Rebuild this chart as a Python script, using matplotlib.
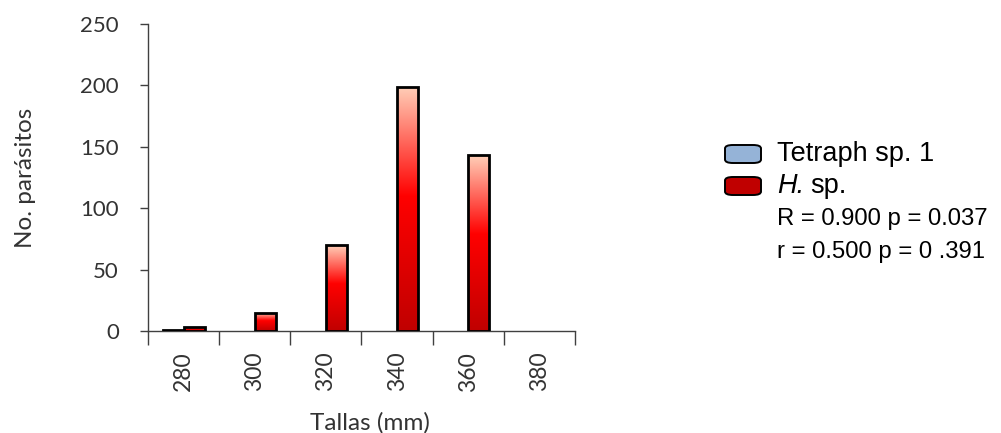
import numpy as np
import matplotlib
matplotlib.use("Agg")
import matplotlib.pyplot as plt
from matplotlib.colors import LinearSegmentedColormap
from matplotlib.patches import FancyBboxPatch

tallas = ["280", "300", "320", "340", "360", "380"]
tetraph = [1, 0, 0, 0, 0, 0]
hsp = [3, 15, 70, 199, 143, 0]

TXT = "#333333"

fig = plt.figure(figsize=(10.01, 4.33), dpi=100)
ax = fig.add_axes([148 / 1001, 1 - 331 / 433, 427 / 1001, 307 / 433])

x = np.arange(len(tallas))
w = 0.295
lw1 = [2 if v > 0 else 0 for v in tetraph]
lw2 = [2 if v > 0 else 0 for v in hsp]
b1 = ax.bar(x - w / 2, tetraph, w, color="#95b3d7", edgecolor="black", linewidth=lw1, zorder=3)
b2 = ax.bar(x + w / 2, hsp, w, color="none", edgecolor="black", linewidth=lw2, zorder=3)

# vertical gradient for the red bars
cmap = LinearSegmentedColormap.from_list(
    "redgrad", [(0, "#c00000"), (0.55, "#ff0000"), (1, "#ffcfb8")])
grad = np.linspace(0, 1, 256).reshape(-1, 1)
for rect in b2:
    h = rect.get_height()
    if h <= 0:
        continue
    x0 = rect.get_x()
    im = ax.imshow(grad, cmap=cmap, origin="lower", aspect="auto",
                   extent=[x0, x0 + rect.get_width(), 0, h], zorder=2)
    im.set_clip_path(rect)

ax.set_xlim(-0.5, len(tallas) - 0.5)
ax.set_ylim(0, 250)
ax.set_yticks(np.arange(0, 251, 50))

ax.set_xticks(np.arange(-0.5, len(tallas)))
ax.set_xticklabels([])
ax.set_xticks(x, minor=True)
ax.set_xticklabels(tallas, minor=True, rotation=90, fontsize=16.5, family="Lato", color=TXT)
ax.tick_params(axis="x", which="major", length=10, width=1, direction="out", color="#404040")
ax.tick_params(axis="x", which="minor", length=0, pad=15)
ax.tick_params(axis="y", length=6, width=1, direction="out", labelsize=16,
               labelcolor=TXT, color="#404040", pad=15)
for lab in ax.get_yticklabels():
    lab.set_family("Lato")

for s in ["top", "right"]:
    ax.spines[s].set_visible(False)
for s in ["left", "bottom"]:
    ax.spines[s].set_color("#404040")
    ax.spines[s].set_linewidth(1)

ax.set_xlabel("Tallas (mm)", fontsize=17.5, family="Lato", color=TXT, va="center")
ax.xaxis.set_label_coords((370 - 148) / 427, (331 - 423) / 307)
ax.set_ylabel("No. parásitos", fontsize=17.5, family="Lato", color=TXT, va="center")
ax.yaxis.set_label_coords((25 - 148) / 427, (331 - 178) / 307)

# legend drawn manually
W, H = 1001.0, 433.0
def fx(px):
    return px / W
def fy(py):
    return 1 - py / H

for ytop, col in [(145, "#95b3d7"), (177, "#c00000")]:
    p = FancyBboxPatch((fx(725), fy(ytop + 18)), fx(36), 18 / H,
                       boxstyle="round,pad=0,rounding_size=0.008",
                       transform=fig.transFigure, facecolor=col,
                       edgecolor="black", linewidth=1.4)
    fig.patches.append(p)

LEG = 19.5
fig.text(fx(777), fy(154), "Tetraph sp. 1", fontsize=LEG, family="Liberation Sans", va="center")
th = fig.text(fx(777), fy(186), "H.", fontsize=LEG, family="Liberation Sans",
              style="italic", va="center")
r = fig.canvas.get_renderer()
bb = th.get_window_extent(renderer=r)
fig.text(bb.x1 / W + fx(6), fy(186), "sp.", fontsize=LEG, family="Liberation Sans", va="center")
fig.text(fx(777), fy(219), "R = 0.900 p = 0.037", fontsize=17.2, family="Liberation Sans", va="center")
fig.text(fx(777), fy(252), "r = 0.500 p = 0 .391", fontsize=17.2, family="Liberation Sans", va="center")

fig.savefig("out.png", dpi=100)
